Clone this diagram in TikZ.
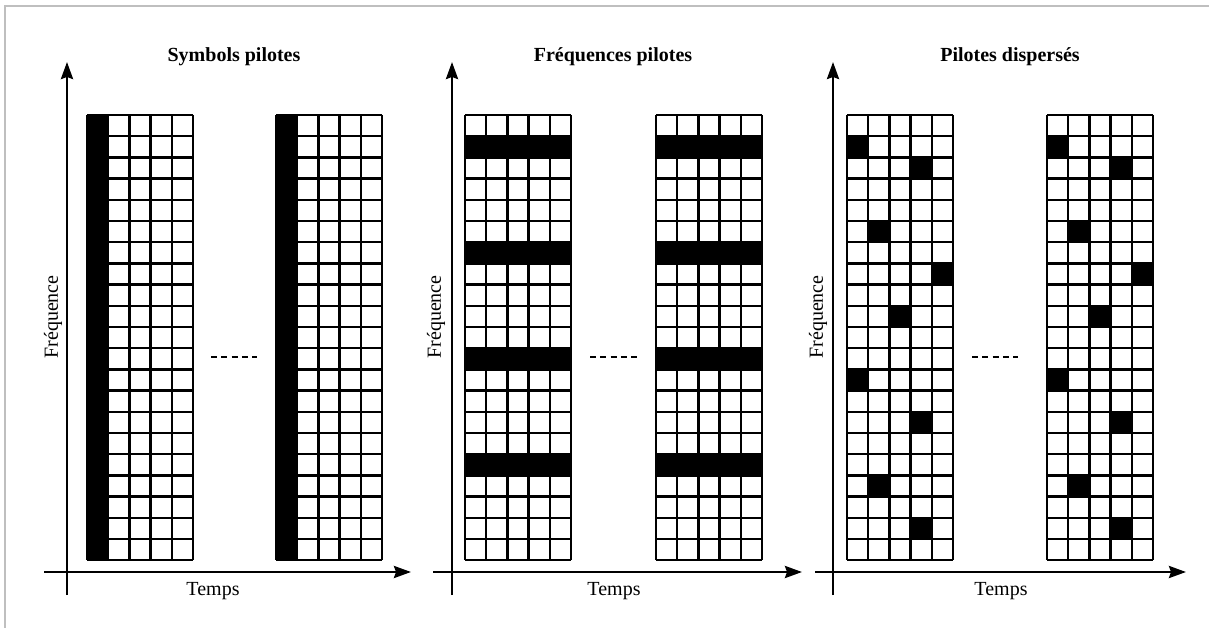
\documentclass[tikz,border=0pt]{standalone}
\usepackage{fontspec}
\setmainfont{Liberation Serif}
\usetikzlibrary{arrows.meta}
\begin{document}
\begin{tikzpicture}[x=1pt,y=-1pt,
  axis/.style={line width=2.6pt,-{Stealth[length=17pt,width=12pt,inset=2pt]}},
  cellline/.style={line width=2.3pt},
  title/.style={font=\fontsize{20}{24}\selectfont\bfseries},
  lbl/.style={font=\fontsize{20}{24}\selectfont},
  dots/.style={line width=2.4pt,dash pattern=on 6pt off 4.25pt}]
\useasboundingbox (0,0) rectangle (1209,628);
\draw[black!25,line width=1.2pt] (5,628) -- (5,6) -- (1209,6);
\coordinate (yb1) at (67,595);
\coordinate (yt1) at (67,62);
\coordinate (xl1) at (44,572);
\coordinate (xr1) at (411,572);
\coordinate (yb2) at (452,595);
\coordinate (yt2) at (452,62);
\coordinate (xl2) at (433,572);
\coordinate (xr2) at (802,572);
\coordinate (yb3) at (833,595);
\coordinate (yt3) at (833,62);
\coordinate (xl3) at (815,572);
\coordinate (xr3) at (1186,572);
\coordinate (d1a) at (211,357);
\coordinate (d1b) at (257,357);
\coordinate (d2a) at (590,357);
\coordinate (d2b) at (637,357);
\coordinate (d3a) at (972,357);
\coordinate (d3b) at (1018,357);
\foreach \gx in {87,276}
  \fill (\gx,115) rectangle ++(21.2,445.2);
\foreach \gx in {465,656}
  \foreach \r in {1,6,11,16}
    \fill (\gx,{115+\r*21.2}) rectangle ++(106,21.2);
\foreach \gx in {847,1047}
  \foreach \c/\r in {0/1,3/2,1/5,4/7,2/9,0/12,3/14,1/17,3/19}
    \fill ({\gx+\c*21.2},{115+\r*21.2}) rectangle ++(21.2,21.2);
\foreach \gx in {87,276,465,656,847,1047}{
  \foreach \k in {0,...,5}
    \draw[cellline] ({\gx+\k*21.2},115) -- ++(0,445.2);
  \foreach \k in {0,...,21}
    \draw[cellline] (\gx,{115+\k*21.2}) -- ++(106,0);
}
\foreach \i in {1,2,3}{
  \draw[axis] (yb\i) -- (yt\i);
  \draw[axis] (xl\i) -- (xr\i);
  \draw[dots] (d\i a) -- (d\i b);
}
\node[title] (sp) at (234,57) {Symbols pilotes};
\node[title] (fp) at (613,57) {Fréquences pilotes};
\node[title] (pd) at (1010,57) {Pilotes dispersés};
\node[lbl,rotate=90] (f1) at (53,317) {Fréquence};
\node[lbl,rotate=90] (f2) at (436,317) {Fréquence};
\node[lbl,rotate=90] (f3) at (818,317) {Fréquence};
\node[lbl] (tp1) at (213,591) {Temps};
\node[lbl] (tp2) at (614,591) {Temps};
\node[lbl] (tp3) at (1001,591) {Temps};
\end{tikzpicture}
\end{document}
